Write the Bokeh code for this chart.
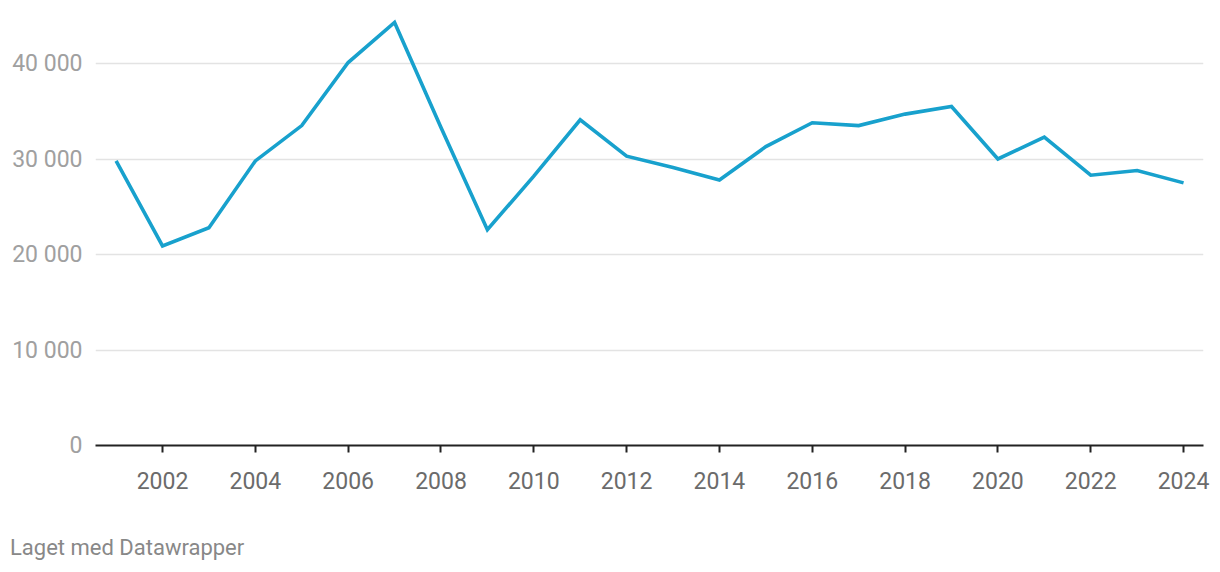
from bokeh.plotting import figure
from bokeh.models import FixedTicker, ColumnDataSource, Div
from bokeh.layouts import column
from bokeh.embed import file_html
from bokeh.resources import INLINE

years = list(range(2001, 2025))
values = [29800, 20900, 22800, 29800, 33500, 40100, 44300, 33300, 22600, 28200,
          34100, 30300, 29100, 27800, 31300, 33800, 33500, 34700, 35500, 30000,
          32300, 28300, 28800, 27500]
y_ticks = [0, 10000, 20000, 30000, 40000]
y_tick_labels = ["0", "10 000", "20 000", "30 000", "40 000"]
x_ticks = list(range(2002, 2025, 2))
credit = "Laget med Datawrapper"

X0, X1 = 2000.556, 2024.43
Y1 = 45550
src = ColumnDataSource(dict(x=years, y=values))

p = figure(width=1220, height=505, output_backend="svg", toolbar_location=None,
           x_range=(X0, X1), y_range=(0, Y1),
           min_border_left=95, min_border_right=17, min_border_top=10,
           min_border_bottom=60)
p.outline_line_color = None
p.background_fill_color = "white"
p.border_fill_color = "white"

p.line("x", "y", source=src, line_color="#18a1cd", line_width=3.6,
       line_join="miter")

# x axis
xa = p.xaxis[0]
xa.ticker = FixedTicker(ticks=x_ticks)
xa.axis_line_color = "#222222"
xa.axis_line_width = 2
xa.major_tick_line_color = "#222222"
xa.major_tick_line_width = 2
xa.major_tick_out = 7
xa.major_tick_in = 0
xa.minor_tick_line_color = None
xa.major_label_text_font = "Roboto"
xa.major_label_text_font_size = "23px"
xa.major_label_text_color = "#6b6b6b"
xa.major_label_standoff = 19

# y axis
ya = p.yaxis[0]
ya.ticker = FixedTicker(ticks=y_ticks)
ya.major_label_overrides = {t: l for t, l in zip(y_ticks, y_tick_labels)}
ya.axis_line_color = None
ya.major_tick_line_color = None
ya.minor_tick_line_color = None
ya.major_label_text_font = "Roboto"
ya.major_label_text_font_size = "23px"
ya.major_label_text_color = "#a0a0a0"
ya.major_label_standoff = 7

p.xgrid.grid_line_color = None
p.ygrid.ticker = FixedTicker(ticks=y_ticks[1:])
p.ygrid.grid_line_color = "#e3e3e3"
p.ygrid.grid_line_width = 1.5

note = Div(text=credit, width=1210, height=37, margin=(30, 0, 0, 10),
           styles={"font-family": "Roboto", "font-size": "22px",
                   "color": "#888888", "line-height": "26px"})

layout = column(p, note, spacing=0)

open("out.html", "w").write(file_html(layout, INLINE))
